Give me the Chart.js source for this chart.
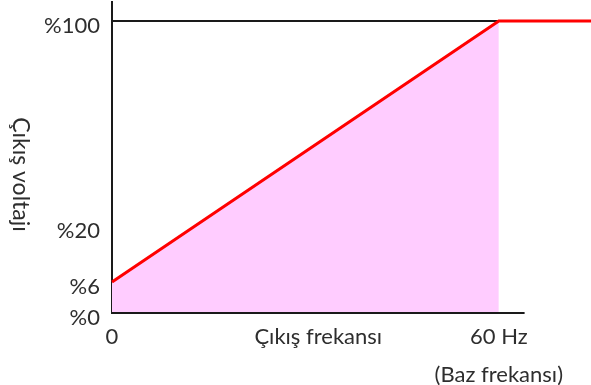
<!DOCTYPE html>
<html>
<head>
<meta charset="utf-8">
<script src="https://cdn.jsdelivr.net/npm/chart.js@4/dist/chart.umd.min.js"></script>
<style>
  html, body { margin: 0; padding: 0; background: #fff; }
  #wrap { width: 591px; height: 385px; }
</style>
</head>
<body>
<div id="wrap"><canvas id="vfChart"></canvas></div>
<script>
// ==========================
// DATA
// ==========================
const freqRamp = [0, 60];            // Hz, linear V/f region
const voltRamp = [6, 100];           // % output voltage
const freqFlat = [60, 74.3];         // above base frequency
const voltFlat = [100, 100];

const yTickValues = [0, 6, 20, 100];
const yTickLabels = ["%0", "%6", "%20", "%100"];
const xTickValues = [0, 32, 60];
const xTickLabels = ["0", "Çıkış frekansı", ["60 Hz", "(Baz frekansı)"]];
const yTitle = "Çıkış voltajı";

const xMax = 74.3;
const yMax = 107;
const xAxisEnd = 64;                 // bottom axis line stops short of the edge

// ==========================
// NON-UNIFORM VOLTAGE AXIS
// ==========================
// each band between the tick values gets its own share of the height
const yKnots = [0, 6, 20, 100, yMax];
const bandShare = [31, 56, 205, 19];
const shareTotal = bandShare.reduce((a, b) => a + b, 0);
const knotDecimals = [0];
bandShare.forEach((s, i) => knotDecimals.push(knotDecimals[i] + s / shareTotal));

function toDecimal(v) {
  for (let i = 0; i < yKnots.length - 1; i++) {
    if (v <= yKnots[i + 1] || i === yKnots.length - 2) {
      const t = (v - yKnots[i]) / (yKnots[i + 1] - yKnots[i]);
      return knotDecimals[i] + t * (knotDecimals[i + 1] - knotDecimals[i]);
    }
  }
  return 0;
}

function fromDecimal(d) {
  for (let i = 0; i < knotDecimals.length - 1; i++) {
    if (d <= knotDecimals[i + 1] || i === knotDecimals.length - 2) {
      const t = (d - knotDecimals[i]) / (knotDecimals[i + 1] - knotDecimals[i]);
      return yKnots[i] + t * (yKnots[i + 1] - yKnots[i]);
    }
  }
  return 0;
}

class SplitScale extends Chart.LinearScale {
  static id = "split";
  static defaults = Chart.LinearScale.defaults;
  buildTicks() {
    return yTickValues.map((v) => ({ value: v }));
  }
  getPixelForValue(value) {
    return value === null ? NaN : this.getPixelForDecimal(toDecimal(value));
  }
  getValueForPixel(pixel) {
    return fromDecimal(this.getDecimalForPixel(pixel));
  }
  _computeLabelItems(chartArea) {
    const items = super._computeLabelItems(chartArea);
    items.forEach((it) => (it.options.translation[1] += 5));
    return items;
  }
  // title reads top-to-bottom (rotated clockwise)
  drawTitle() {
    const title = this.options.title;
    if (!title.display) return;
    const ctx = this.ctx;
    const f = Chart.helpers.toFont(title.font);
    ctx.save();
    ctx.translate(this.left + 20, (this.top + this.bottom) / 2 + 17);
    ctx.rotate(Math.PI / 2);
    ctx.font = f.string;
    ctx.fillStyle = title.color;
    ctx.textAlign = "center";
    ctx.textBaseline = "middle";
    ctx.fillText(title.text, 0, 0);
    ctx.restore();
  }
}
Chart.register(SplitScale);

// ==========================
// CHART
// ==========================
const pts = (xs, ys) => xs.map((x, i) => ({ x, y: ys[i] }));
const textColor = "#2e2e2e";
const font = { family: "Lato", size: 22 };

new Chart(document.getElementById("vfChart"), {
  type: "line",
  data: {
    datasets: [
      {
        // red V/f curve
        data: pts(freqRamp, voltRamp).concat(pts(freqFlat.slice(1), voltFlat.slice(1))),
        borderColor: "#ff0000",
        borderWidth: 3,
        pointRadius: 0,
        fill: false,
        clip: false,
        order: 0,
      },
      {
        // shaded region under the ramp
        data: pts(freqRamp, voltRamp),
        borderWidth: 0,
        borderColor: "rgba(0,0,0,0)",
        backgroundColor: "#ffccff",
        pointRadius: 0,
        fill: "origin",
        order: 3,
      },
      {
        // 100% reference line
        data: pts([0, 60], [100, 100]),
        borderColor: "#1a1a1a",
        borderWidth: 2,
        pointRadius: 0,
        fill: false,
        order: 2,
      },
      {
        // bottom axis line
        data: pts([0, xAxisEnd], [0, 0]),
        borderColor: "#1a1a1a",
        borderWidth: 2,
        pointRadius: 0,
        fill: false,
        clip: false,
        order: 1,
      },
    ],
  },
  options: {
    responsive: true,
    maintainAspectRatio: false,
    animation: false,
    events: [],
    layout: { padding: { top: 2, right: 0, left: 0, bottom: 0 } },
    plugins: { legend: { display: false }, tooltip: { enabled: false } },
    scales: {
      x: {
        type: "linear",
        min: 0,
        max: xMax,
        grid: { display: false, drawTicks: false },
        border: { display: false },
        afterBuildTicks: (scale) => {
          scale.ticks = xTickValues.map((v) => ({ value: v }));
        },
        afterFit: (scale) => {
          scale.height = 72;
          scale.paddingLeft = 0;
          scale.paddingRight = 0;
        },
        ticks: {
          autoSkip: false,
          maxRotation: 0,
          padding: 5,
          color: textColor,
          font: { ...font, lineHeight: 1.73 },
          callback: (v, i) => xTickLabels[i],
        },
      },
      y: {
        type: "split",
        min: 0,
        max: yMax,
        grid: { display: false, drawTicks: false },
        border: { display: true, color: "#1a1a1a", width: 2 },
        afterFit: (scale) => {
          scale.width = 112;
          scale.paddingTop = 0;
          scale.paddingBottom = 0;
        },
        title: {
          display: true,
          text: yTitle,
          color: textColor,
          font: { ...font, size: 23 },
        },
        ticks: {
          padding: 12,
          color: textColor,
          font: font,
          callback: (v) => yTickLabels[yTickValues.indexOf(v)],
        },
      },
    },
  },
});
</script>
</body>
</html>
